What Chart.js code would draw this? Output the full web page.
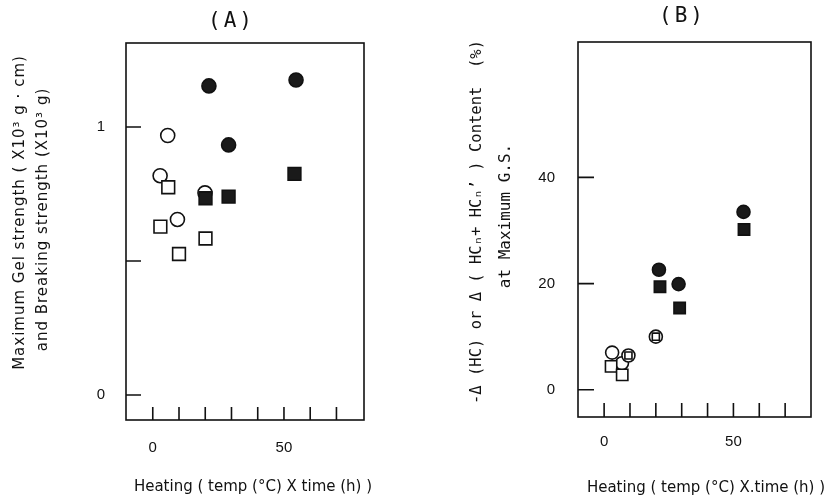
<!DOCTYPE html>
<html>
<head>
<meta charset="utf-8">
<script src="https://cdn.jsdelivr.net/npm/chart.js@4.4.1/dist/chart.umd.min.js"></script>
<style>
  body { margin: 0; background: #fff; }
  #wrap { position: relative; width: 839px; height: 500px; }
  canvas { position: absolute; top: 0; }
</style>
</head>
<body>
<div id="wrap">
  <canvas id="chartA" width="420" height="500" style="left:0px"></canvas>
  <canvas id="chartB" width="419" height="500" style="left:420px"></canvas>
</div>
<script>
// ---- panel A : max gel strength (circles) and breaking strength (squares)
const xOpenCircleA = [5.7, 2.8, 9.4, 19.9]
const yOpenCircleA = [0.968, 0.818, 0.655, 0.754]
const xFilledCircleA = [21.4, 54.6, 28.9]
const yFilledCircleA = [1.153, 1.175, 0.933]
const xOpenSquareA = [5.9, 2.9, 10.0, 20.1]
const yOpenSquareA = [0.775, 0.628, 0.526, 0.584]
const xFilledSquareA = [20.1, 28.9, 54.0]
const yFilledSquareA = [0.734, 0.74, 0.825]

// ---- panel B : -d(HC) or d(HCn + HCn') content at max G.S.
const xOpenCircleB = [3.1, 6.9]
const yOpenCircleB = [7.0, 5.0]
const xOpenSquareB = [2.7, 7.0]
const yOpenSquareB = [4.4, 2.8]
const xRingSquareB = [20.0, 9.4]
const yRingSquareB = [10.0, 6.45]
const xFilledCircleB = [53.9, 21.2, 28.8]
const yFilledCircleB = [33.5, 22.6, 19.9]
const xFilledSquareB = [54.1, 21.6, 29.2]
const yFilledSquareB = [30.2, 19.4, 15.4]

// ticks
const xTicks = [0, 10, 20, 30, 40, 50, 60, 70]
const xTickLabels = {0: '0', 50: '50'}
const yTicksA = [0, 0.5, 1]
const yTickLabelsA = {0: '0', 1: '1'}
const yTicksB = [0, 20, 40]
const yTickLabelsB = {0: '0', 20: '20', 40: '40'}

const INK = '#111'

function pts(xs, ys){
  return xs.map((x, i) => ({x: x, y: ys[i]}))
}

function drawText(ctx, t){
  const sp = t.spacing || 0
  ctx.save()
  ctx.translate(t.x, t.y)
  if(t.rot) ctx.rotate(t.rot)
  ctx.font = t.font
  ctx.letterSpacing = sp + 'px'
  ctx.fillStyle = INK
  ctx.textAlign = 'center'
  ctx.textBaseline = 'middle'
  ctx.fillText(t.text, sp / 2, 0)
  ctx.restore()
}

// frame, inward tick marks and free text labels
function makeDeco(cfg){
  return {
    id: 'deco',
    beforeDatasetsDraw(chart){
      const {ctx, chartArea: a, scales: {x, y}} = chart
      ctx.save()
      ctx.strokeStyle = INK
      ctx.lineWidth = 1.6
      ctx.beginPath()
      x.ticks.forEach(t => {
        const px = x.getPixelForValue(t.value)
        ctx.moveTo(px, a.bottom)
        ctx.lineTo(px, a.bottom - cfg.xLen)
      })
      y.ticks.forEach(t => {
        const py = y.getPixelForValue(t.value)
        ctx.moveTo(a.left, py)
        ctx.lineTo(a.left + cfg.yLen, py)
      })
      ctx.stroke()
      ctx.strokeRect(a.left, a.top, a.right - a.left, a.bottom - a.top)
      ctx.restore()
      cfg.texts.forEach(t => drawText(ctx, t))
    }
  }
}

function marker(data, style, radius, filled, order){
  return {
    data: data,
    pointStyle: style,
    pointRadius: radius,
    pointBackgroundColor: filled ? '#1a1a1a' : '#fff',
    pointBorderColor: INK,
    pointBorderWidth: 1.6,
    showLine: false,
    order: order
  }
}

function axes(xr, yr, yTicks, yLabels, xPad, yPad, xHeight, yWidth){
  const tickFont = {family: 'Liberation Sans', size: 15}
  return {
    x: {
      type: 'linear', min: xr[0], max: xr[1],
      grid: {display: false, drawTicks: false},
      border: {display: false},
      afterBuildTicks: s => { s.ticks = xTicks.map(v => ({value: v})) },
      afterFit: s => { s.height = xHeight },
      ticks: {
        autoSkip: false, maxRotation: 0, padding: xPad,
        font: tickFont, color: INK,
        callback: v => xTickLabels[v] || ''
      }
    },
    y: {
      type: 'linear', min: yr[0], max: yr[1],
      grid: {display: false, drawTicks: false},
      border: {display: false},
      afterBuildTicks: s => { s.ticks = yTicks.map(v => ({value: v})) },
      afterFit: s => { s.width = yWidth },
      ticks: {
        autoSkip: false, padding: yPad,
        font: tickFont, color: INK,
        callback: v => yLabels[v] || ''
      }
    }
  }
}

const sans = '"DejaVu Sans"'
const mono = '"DejaVu Sans Mono"'

new Chart(document.getElementById('chartA').getContext('2d'), {
  type: 'scatter',
  data: {
    datasets: [
      marker(pts(xOpenCircleA, yOpenCircleA), 'circle', 7, false, 2),
      marker(pts(xFilledCircleA, yFilledCircleA), 'circle', 7, true, 2),
      marker(pts(xOpenSquareA, yOpenSquareA), 'rect', 9, false, 1),
      marker(pts(xFilledSquareA, yFilledSquareA), 'rect', 9, true, 1)
    ]
  },
  options: {
    responsive: false, animation: false, devicePixelRatio: 1, events: [],
    layout: {padding: {left: 0, top: 43, right: 56, bottom: 0}},
    plugins: {legend: {display: false}, tooltip: {enabled: false}},
    scales: axes([-10.2, 80.5], [-0.093, 1.313], yTicksA, yTickLabelsA, 19, 21, 80, 126)
  },
  plugins: [makeDeco({
    xLen: 13, yLen: 15,
    texts: [
      {text: '(A)', x: 230, y: 22, font: '21px ' + mono, spacing: 3},
      {text: 'Maximum Gel strength ( X10\u00b3 g \u00b7 cm)', x: 20, y: 213, rot: -Math.PI / 2, font: '15px ' + sans, spacing: 1},
      {text: 'and Breaking strength (X10\u00b3 g)', x: 43, y: 220, rot: -Math.PI / 2, font: '15px ' + sans, spacing: 1},
      {text: 'Heating ( temp (\u00b0C) X time (h) )', x: 253, y: 487, font: '15px ' + sans}
    ]
  })]
})

new Chart(document.getElementById('chartB').getContext('2d'), {
  type: 'scatter',
  data: {
    datasets: [
      marker(pts(xOpenCircleB, yOpenCircleB), 'circle', 6.5, false, 3),
      marker(pts(xFilledCircleB, yFilledCircleB), 'circle', 6.5, true, 3),
      marker(pts(xOpenSquareB, yOpenSquareB), 'rect', 8, false, 2),
      marker(pts(xFilledSquareB, yFilledSquareB), 'rect', 8, true, 2),
      marker(pts(xRingSquareB, yRingSquareB), 'circle', 6.5, false, 1),
      marker(pts(xRingSquareB, yRingSquareB), 'rect', 5, false, 0)
    ]
  },
  options: {
    responsive: false, animation: false, devicePixelRatio: 1, events: [],
    layout: {padding: {left: 0, top: 42, right: 28, bottom: 0}},
    plugins: {legend: {display: false}, tooltip: {enabled: false}},
    scales: axes([-10.1, 80], [-5.13, 65.5], yTicksB, yTickLabelsB, 16, 23, 83, 158)
  },
  plugins: [makeDeco({
    xLen: 14, yLen: 16,
    texts: [
      {text: '(B)', x: 261, y: 17, font: '21px ' + mono, spacing: 3},
      {text: '-\u0394 (HC) or \u0394 ( HC\u2099+ HC\u2099\u2019 ) Content  (%)', x: 57, y: 222, rot: -Math.PI / 2, font: '15.5px ' + mono},
      {text: 'at Maximum G.S.', x: 86, y: 216, rot: -Math.PI / 2, font: '16px ' + mono},
      {text: 'Heating ( temp (\u00b0C) X.time (h) )', x: 286, y: 488, font: '15px ' + sans}
    ]
  })]
})
</script>
</body>
</html>
